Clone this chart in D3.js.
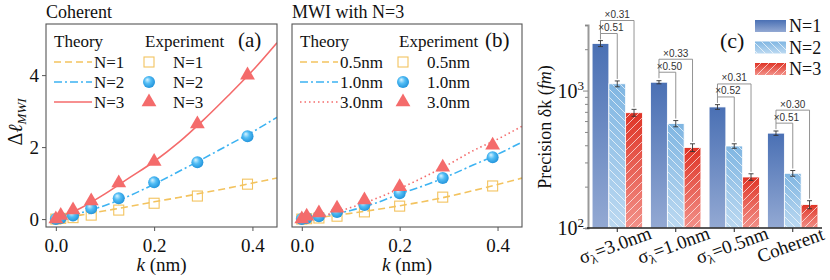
<!DOCTYPE html>
<html>
<head>
<meta charset="utf-8">
<script src="https://cdn.jsdelivr.net/npm/d3@7"></script>
<style>
  body { margin: 0; background: #fff; }
</style>
</head>
<body>
<script>
// ---- data ----
const kTheory = [0, 0.05, 0.1, 0.15, 0.2, 0.25, 0.3, 0.35, 0.4, 0.45];
const kExp = [0, 0.01, 0.035, 0.072, 0.128, 0.2, 0.288, 0.39];

// panel (a): coherent
const theoryA1 = [0, 0.11, 0.23, 0.35, 0.48, 0.6, 0.73, 0.86, 1.0, 1.14];
const theoryA2 = [0, 0.17, 0.38, 0.65, 0.97, 1.32, 1.68, 2.05, 2.42, 2.83];
const theoryA3 = [0, 0.3, 0.7, 1.15, 1.6, 2.13, 2.75, 3.42, 4.12, 4.9];
const expA1 = [0, 0.02, 0.04, 0.11, 0.25, 0.44, 0.64, 0.97];
const expA2 = [0, 0.03, 0.1, 0.3, 0.58, 1.02, 1.58, 2.3];
const expA3 = [0, 0.1, 0.25, 0.5, 1.0, 1.6, 2.64, 4.0];

// panel (b): MWI with N=3
const theoryB05 = [0, 0.07, 0.16, 0.26, 0.37, 0.49, 0.63, 0.79, 0.96, 1.14];
const theoryB10 = [0, 0.1, 0.24, 0.44, 0.7, 0.93, 1.2, 1.5, 1.8, 2.14];
const theoryB30 = [0, 0.12, 0.32, 0.56, 0.85, 1.17, 1.52, 1.9, 2.22, 2.58];
const expB05 = [0, 0.01, 0.03, 0.08, 0.2, 0.36, 0.61, 0.92];
const expB10 = [0, 0.03, 0.08, 0.2, 0.39, 0.72, 1.14, 1.72];
const expB30 = [0, 0.08, 0.17, 0.3, 0.53, 0.9, 1.44, 2.05];

// panel (c): precision bars
const groups = ["g3", "g1", "g05", "coh"];
const groupLabels = [["σ", "λ", "=3.0nm"], ["σ", "λ", "=1.0nm"], ["σ", "λ", "=0.5nm"], ["Coherent", "", ""]];
const seriesN = ["N=1", "N=2", "N=3"];
const precN1 = [2200, 1150, 760, 490];
const precN2 = [1120, 575, 395, 250];
const precN3 = [690, 385, 235, 148];
const errN1 = [110, 30, 30, 18];
const errN2 = [55, 30, 15, 12];
const errN3 = [40, 25, 13, 10];
const ratio2 = ["×0.51", "×0.50", "×0.52", "×0.51"];
const ratio3 = ["×0.31", "×0.33", "×0.31", "×0.30"];

const kTicks = [0, 0.2, 0.4];
const dlTicks = [0, 2, 4];

const cYellow = "#f3c35f", cBlue = "#3db3f2", cRed = "#f46b6b";
const serif = "'Liberation Serif', 'Times New Roman', 'DejaVu Serif', serif";

const svg = d3.select("body").append("svg").attr("width", 830).attr("height", 280)
  .attr("font-family", serif);
const defs = svg.append("defs");

const sphere = defs.append("radialGradient").attr("id", "sphere")
    .attr("cx", "45%").attr("cy", "45%").attr("r", "60%").attr("fx", "35%").attr("fy", "30%");
sphere.append("stop").attr("offset", "0%").attr("stop-color", "#d8f3ff");
sphere.append("stop").attr("offset", "45%").attr("stop-color", "#52bdf5");
sphere.append("stop").attr("offset", "100%").attr("stop-color", "#1d8fd8");

function vgrad(id, top, bottom) {
  const g = defs.append("linearGradient").attr("id", id).attr("x1", 0).attr("y1", 0).attr("x2", 0).attr("y2", 1);
  g.append("stop").attr("offset", "0%").attr("stop-color", top);
  g.append("stop").attr("offset", "100%").attr("stop-color", bottom);
}
vgrad("gN1", "#4a70b4", "#93a9d3");
vgrad("gN2", "#80b6e2", "#bcd9f1");
vgrad("gN3", "#df3426", "#f29189");

function hatch(id, d) {
  defs.append("pattern").attr("id", id).attr("patternUnits", "userSpaceOnUse")
      .attr("width", 8).attr("height", 8)
    .append("path").attr("d", d).attr("stroke", "#fff").attr("stroke-width", 0.9).attr("stroke-opacity", 0.75);
}
hatch("hBack", "M-2,-2L10,10M-2,6L2,10M6,-2L10,2");
hatch("hFwd", "M-2,10L10,-2M-2,2L2,-2M6,10L10,6");

// ---- line panels ----
const y = d3.scaleLinear().domain([-0.22, 5.42]).range([227, 24]);

function linePanel(opt) {
  const x = d3.scaleLinear().domain([-0.02, 0.45]).range([opt.x0, opt.x1]);
  const g = svg.append("g");
  const clipId = "clip" + opt.id;
  defs.append("clipPath").attr("id", clipId)
    .append("rect").attr("x", opt.x0).attr("y", 24).attr("width", opt.x1 - opt.x0).attr("height", 203);

  const line = d3.line().x((d, i) => x(kTheory[i])).y(d => y(d)).curve(d3.curveMonotoneX);
  const plot = g.append("g").attr("clip-path", `url(#${clipId})`);

  opt.series.forEach(s => {
    plot.append("path").attr("d", line(s.theory)).attr("fill", "none")
      .attr("stroke", s.color).attr("stroke-width", 1.6).attr("stroke-dasharray", s.dash);
  });
  opt.series.forEach(s => {
    const m = plot.append("g");
    s.exp.forEach((v, i) => drawMarker(m, s.marker, x(kExp[i]), y(v)));
  });

  g.append("rect").attr("x", opt.x0).attr("y", 24).attr("width", opt.x1 - opt.x0).attr("height", 203)
    .attr("fill", "none").attr("stroke", "#555").attr("stroke-width", 1.1);

  const xa = g.append("g").attr("transform", "translate(0,227)")
    .call(d3.axisBottom(x).tickValues(kTicks).tickFormat(d3.format(".1f")).tickSize(4))
    .attr("font-family", serif);
  xa.select(".domain").remove();
  xa.selectAll("line").attr("stroke", "#555");
  xa.selectAll("text").attr("font-size", 19).attr("fill", "#111").attr("dy", "0.95em");

  if (opt.yLabels) {
    const ya = g.append("g").attr("transform", `translate(${opt.x0},0)`)
      .call(d3.axisLeft(y).tickValues(dlTicks).tickFormat(d3.format("d")).tickSize(4))
      .attr("font-family", serif);
    ya.select(".domain").remove();
    ya.selectAll("line").attr("stroke", "#555");
    ya.selectAll("text").attr("font-size", 19).attr("fill", "#111");
  }

  const cx = (opt.x0 + opt.x1) / 2;
  const xl = g.append("text").attr("x", cx).attr("y", 271).attr("text-anchor", "middle")
    .attr("font-size", 19).attr("fill", "#111");
  xl.append("tspan").attr("font-style", "italic").text("k");
  xl.append("tspan").text(" (nm)");

  g.append("text").attr("x", opt.x0).attr("y", 18).attr("font-size", 18).attr("fill", "#111").text(opt.title);
  g.append("text").attr("x", opt.panelX).attr("y", 47).attr("font-size", 21).attr("fill", "#111").text(opt.panel);

  // legend
  g.append("text").attr("x", opt.x0 + 8).attr("y", 47).attr("font-size", 17).attr("fill", "#111").text("Theory");
  g.append("text").attr("x", opt.expX).attr("y", 47).attr("font-size", 17).attr("fill", "#111").text("Experiment");
  opt.series.forEach((s, i) => {
    const ly = 62 + i * 20;
    g.append("line").attr("x1", opt.x0 + 8).attr("x2", opt.x0 + 46).attr("y1", ly).attr("y2", ly)
      .attr("stroke", s.color).attr("stroke-width", 1.6).attr("stroke-dasharray", s.dash);
    g.append("text").attr("x", opt.x0 + 48).attr("y", ly + 6).attr("font-size", 17).attr("fill", "#111").text(s.name);
    drawMarker(g, s.marker, opt.expX + 4, ly);
    g.append("text").attr("x", opt.expX + 28).attr("y", ly + 6).attr("font-size", 17).attr("fill", "#111").text(s.name);
  });
}

function drawMarker(g, type, cx, cy) {
  if (type === "square") {
    g.append("rect").attr("x", cx - 5).attr("y", cy - 5).attr("width", 10).attr("height", 10)
      .attr("fill", "none").attr("stroke", cYellow).attr("stroke-width", 1.1);
  } else if (type === "circle") {
    g.append("circle").attr("cx", cx).attr("cy", cy).attr("r", 6).attr("fill", "url(#sphere)");
  } else {
    g.append("path").attr("transform", `translate(${cx},${cy})`)
      .attr("d", d3.symbol(d3.symbolTriangle, 95)()).attr("fill", cRed);
  }
}

linePanel({
  id: "a", x0: 46, x1: 277, title: "Coherent", panel: "(a)", panelX: 238, expX: 145, yLabels: true,
  series: [
    {name: "N=1", theory: theoryA1, exp: expA1, color: cYellow, dash: "7,4", marker: "square"},
    {name: "N=2", theory: theoryA2, exp: expA2, color: cBlue, dash: "8,3,2,3", marker: "circle"},
    {name: "N=3", theory: theoryA3, exp: expA3, color: cRed, dash: null, marker: "triangle"}
  ]
});
linePanel({
  id: "b", x0: 292, x1: 522, title: "MWI with N=3", panel: "(b)", panelX: 485, expX: 399, yLabels: false,
  series: [
    {name: "0.5nm", theory: theoryB05, exp: expB05, color: cYellow, dash: "7,4", marker: "square"},
    {name: "1.0nm", theory: theoryB10, exp: expB10, color: cBlue, dash: "8,3,2,3", marker: "circle"},
    {name: "3.0nm", theory: theoryB30, exp: expB30, color: cRed, dash: "1.5,3", marker: "triangle"}
  ]
});

// y label of (a)
const yl = svg.append("text").attr("transform", "translate(22,122) rotate(-90)")
  .attr("text-anchor", "middle").attr("font-size", 20).attr("fill", "#111");
yl.append("tspan").text("Δ");
yl.append("tspan").attr("font-style", "italic").text("ℓ");
yl.append("tspan").attr("font-style", "italic").attr("font-size", 13).attr("dy", 4).text("MWI");

// ---- bar panel (c) ----
const yc = d3.scaleLog().domain([100, 3000]).range([228, 25]);
const xc = d3.scaleBand().domain(groups).range([588, 822]).paddingInner(0.14).paddingOuter(0.07);
const xn = d3.scaleBand().domain(seriesN).range([0, xc.bandwidth()]);
const vals = [precN1, precN2, precN3];
const errs = [errN1, errN2, errN3];
const fills = ["url(#gN1)", "url(#gN2)", "url(#gN3)"];
const hatches = [null, "url(#hBack)", "url(#hFwd)"];

const gc = svg.append("g");
groups.forEach((grp, gi) => {
  seriesN.forEach((s, si) => {
    const bx = xc(grp) + xn(s), bw = xn.bandwidth(), v = vals[si][gi];
    gc.append("rect").attr("x", bx).attr("y", yc(v)).attr("width", bw).attr("height", yc(100) - yc(v))
      .attr("fill", fills[si]).attr("stroke", "#fff").attr("stroke-width", 0.8);
    if (hatches[si]) {
      gc.append("rect").attr("x", bx + 0.5).attr("y", yc(v) + 0.5).attr("width", bw - 1).attr("height", yc(100) - yc(v) - 0.5)
        .attr("fill", hatches[si]);
    }
    const ex = bx + bw / 2, e = errs[si][gi];
    gc.append("path").attr("d", `M${ex},${yc(v + e)}V${yc(v - e)}M${ex - 2.5},${yc(v + e)}H${ex + 2.5}M${ex - 2.5},${yc(v - e)}H${ex + 2.5}`)
      .attr("stroke", "#333").attr("stroke-width", 0.9).attr("fill", "none");
  });
  // brackets
  const c1 = xc(grp) + xn("N=1") + xn.bandwidth() / 2;
  const c2 = xc(grp) + xn("N=2") + xn.bandwidth() / 2;
  const c3 = xc(grp) + xn("N=3") + xn.bandwidth() / 2;
  const top = yc(precN1[gi]);
  const inner = top - 10, outer = top - 23;
  gc.append("path").attr("d", `M${c1},${top - 4}V${inner}H${c2}V${yc(precN2[gi] + errN2[gi]) - 2}`)
    .attr("fill", "none").attr("stroke", "#888").attr("stroke-width", 0.9);
  gc.append("path").attr("d", `M${c1},${inner}V${outer}H${c3}V${yc(precN3[gi] + errN3[gi]) - 2}`)
    .attr("fill", "none").attr("stroke", "#888").attr("stroke-width", 0.9);
  gc.append("text").attr("x", (c1 + c2) / 2 + 2).attr("y", inner - 2.5).attr("text-anchor", "middle")
    .attr("font-family", "'Liberation Sans', sans-serif").attr("font-size", 10).attr("fill", "#333").text(ratio2[gi]);
  gc.append("text").attr("x", (c1 + c3) / 2).attr("y", outer - 2.5).attr("text-anchor", "middle")
    .attr("font-family", "'Liberation Sans', sans-serif").attr("font-size", 10).attr("fill", "#333").text(ratio3[gi]);

  // category label
  const lab = gc.append("text").attr("transform", `translate(${xc(grp) + xc.bandwidth() / 2},251) rotate(-20)`)
    .attr("text-anchor", "middle").attr("font-size", 19).attr("fill", "#111");
  const gl = groupLabels[gi];
  lab.append("tspan").text(gl[0]);
  if (gl[1]) {
    lab.append("tspan").attr("font-size", 13).attr("dy", 4).text(gl[1]);
    lab.append("tspan").attr("dy", -4).text(gl[2]);
  }
});

// axes for (c)
const yca = gc.append("g").attr("transform", "translate(588,0)")
  .call(d3.axisLeft(yc).tickValues([100, 200, 300, 400, 500, 600, 700, 800, 900, 1000, 2000, 3000]).tickSize(3).tickFormat(""));
yca.select(".domain").attr("stroke", "#999").attr("stroke-width", 2);
yca.selectAll("line").attr("stroke", "#888");
yca.selectAll(".tick").filter(d => d === 100 || d === 1000).select("line").attr("x2", -5);
[100, 1000].forEach(v => {
  const t = gc.append("text").attr("x", 584).attr("y", yc(v) + 7).attr("text-anchor", "end")
    .attr("font-size", 20).attr("fill", "#111");
  t.append("tspan").text("10");
  t.append("tspan").attr("font-size", 13).attr("dy", -8).text(v === 100 ? "2" : "3");
});
gc.append("line").attr("x1", 587).attr("x2", 822).attr("y1", 228).attr("y2", 228).attr("stroke", "#222").attr("stroke-width", 1.4);
groups.forEach(grp => {
  const cx = xc(grp) + xc.bandwidth() / 2;
  gc.append("line").attr("x1", cx).attr("x2", cx).attr("y1", 228).attr("y2", 232).attr("stroke", "#222");
});

const ylc = gc.append("text").attr("transform", "translate(551,127) rotate(-90)")
  .attr("text-anchor", "middle").attr("font-size", 18).attr("fill", "#111");
ylc.append("tspan").text("Precision δk (");
ylc.append("tspan").attr("font-style", "italic").text("fm");
ylc.append("tspan").text(")");

gc.append("text").attr("x", 720).attr("y", 48).attr("font-size", 22).attr("fill", "#111").text("(c)");
seriesN.forEach((s, i) => {
  const ly = 20 + i * 21.5;
  gc.append("rect").attr("x", 755).attr("y", ly).attr("width", 31).attr("height", 12).attr("fill", fills[i]);
  if (hatches[i]) gc.append("rect").attr("x", 755).attr("y", ly).attr("width", 31).attr("height", 12).attr("fill", hatches[i]);
  gc.append("text").attr("x", 789).attr("y", ly + 12).attr("font-size", 18).attr("fill", "#111").text(s);
});
</script>
</body>
</html>
